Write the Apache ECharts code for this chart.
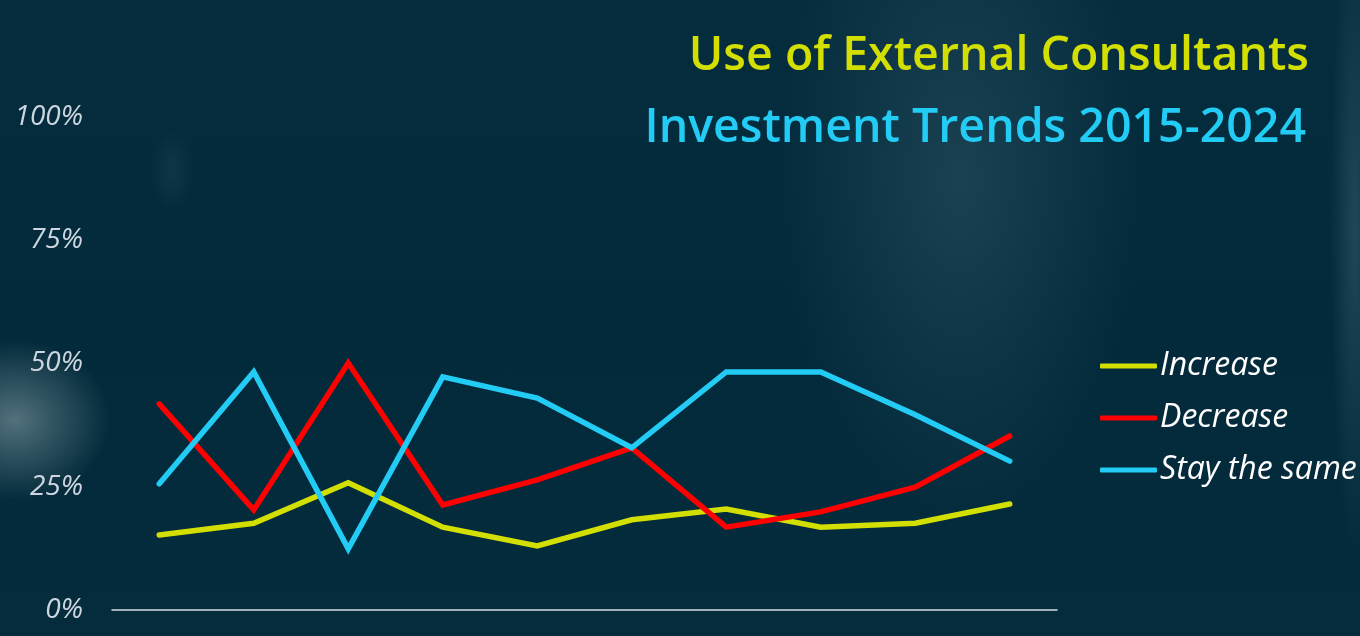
<!DOCTYPE html>
<html>
<head>
<meta charset="utf-8">
<script src="https://cdn.jsdelivr.net/npm/echarts@6/dist/echarts.min.js"></script>
<style>
html,body{margin:0;padding:0;width:1360px;height:636px;overflow:hidden;}
body{
  background:
    radial-gradient(ellipse 95px 80px at 15px 420px, rgba(100,130,140,0.8), rgba(100,130,140,0) 100%),
    radial-gradient(ellipse 22px 40px at 172px 170px, rgba(50,85,100,0.25), rgba(50,85,100,0) 100%),
    radial-gradient(ellipse 180px 340px at 960px 180px, rgba(35,75,90,0.7), rgba(35,75,90,0) 100%),
    radial-gradient(ellipse 25px 320px at 1355px 230px, rgba(50,90,105,0.6), rgba(50,90,105,0) 100%),
    linear-gradient(180deg, #062d3e 0%, #032a3b 50%, #052c3d 100%);
}
#chart{width:1360px;height:636px;}
</style>
</head>
<body>
<div id="chart"></div>
<script>
const categories = ['2015','2016','2017','2018','2019','2020','2021','2022','2023','2024'];
const increase   = [15.2, 17.6, 25.8, 16.8, 13.0, 18.3, 20.5, 16.8, 17.6, 21.5];
const decrease   = [41.8, 20.3, 50.1, 21.3, 26.4, 32.9, 16.8, 19.9, 24.9, 35.3];
const staySame   = [25.6, 48.3, 12.4, 47.3, 43.0, 32.9, 48.3, 48.3, 39.6, 30.2];
const seriesNames = ['Increase', 'Decrease', 'Stay the same'];
const yTicks = [0, 25, 50, 75, 100];

const colors = ['#d2df00', '#ff0000', '#22ccf5'];
const font = "'Open Sans', sans-serif";
const chart = echarts.init(document.getElementById('chart'), null, {renderer:'canvas'});
const mk = (name, data, color) => ({
  name, type:'line', data, symbol:'none', smooth:false,
  lineStyle:{color, width:5.5, cap:'round', join:'miter'},
  itemStyle:{color}
});
chart.setOption({
  backgroundColor:'transparent',
  animation:false,
  title:[
    {text:'Use of External Consultants', right:46, top:28,
     textStyle:{color:'#d2df00', fontSize:46.5, fontWeight:600, fontFamily:font}},
    {text:'Investment Trends 2015-2024', right:49, top:100,
     textStyle:{color:'#22ccf5', fontSize:46.5, fontWeight:600, fontFamily:font}}
  ],
  legend:{
    orient:'vertical', left:1095, top:345, itemGap:20,
    icon:'roundRect', itemWidth:57, itemHeight:5,
    textStyle:{color:'#ffffff', fontSize:32, fontStyle:'italic', fontFamily:font, padding:[0,0,0,-2]},
    data:seriesNames
  },
  grid:{left:112, right:303, top:117, bottom:26, containLabel:false},
  xAxis:{
    type:'category', data:categories, boundaryGap:true,
    axisLine:{show:true, lineStyle:{color:'#d8dde2', width:1.5}},
    axisTick:{show:false}, axisLabel:{show:false}, splitLine:{show:false}
  },
  yAxis:{
    type:'value', min:0, max:100, interval:25,
    axisLine:{show:false}, axisTick:{show:false}, splitLine:{show:false},
    axisLabel:{
      color:'#cdd6e0', fontSize:28, fontStyle:'italic', fontFamily:font, margin:29,
      formatter:(v)=> yTicks.includes(v) ? v + '%' : ''
    }
  },
  series:[
    mk(seriesNames[0], increase, colors[0]),
    mk(seriesNames[1], decrease, colors[1]),
    mk(seriesNames[2], staySame, colors[2])
  ]
});
</script>
</body>
</html>
